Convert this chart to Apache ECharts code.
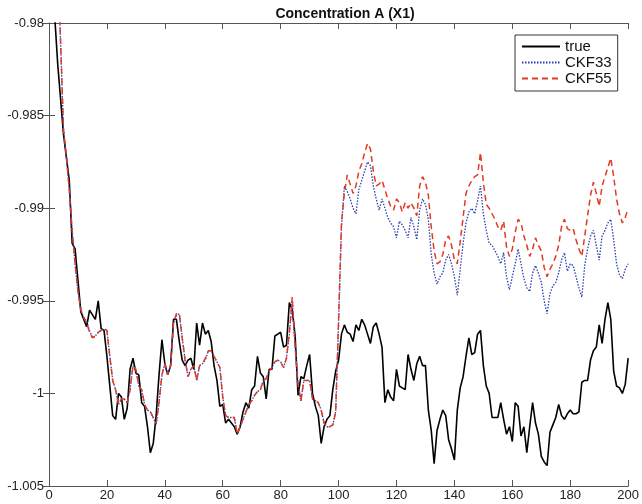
<!DOCTYPE html>
<html>
<head>
<meta charset="utf-8">
<script src="https://cdn.jsdelivr.net/npm/echarts@6/dist/echarts.min.js"></script>
<style>html,body{margin:0;padding:0;background:#fff}#c{width:642px;height:504px}</style>
</head>
<body>
<div id="c"></div>
<script>
const titleText = 'Concentration A (X1)';
const seriesNames = ['true', 'CKF33', 'CKF55'];
const xTicks = [0, 20, 40, 60, 80, 100, 120, 140, 160, 180, 200];
const yTicks = [-1.005, -1, -0.995, -0.99, -0.985, -0.98];

const trueT = [1,2,3,5,7,8,9,11,13,14,16,17,18,19,20,22,23,24,25,26,27,28,29,30,31,32,33,34,35,36,37,38,39,40,41,42,43,44,45,46,47,48,49,50,51,52,53,54,55,56,57,58,59,60,61,62,63,64,65,66,67,68,69,70,71,72,73,74,75,76,77,78,79,80,81,82,83,84,85,86,87,88,89,90,91,92,93,94,95,96,97,98,99,100,101,102,103,104,105,106,107,108,109,110,111,112,113,114,115,116,117,118,119,120,121,122,123,124,125,126,127,128,129,130,131,132,133,134,135,136,137,138,139,140,141,142,143,144,145,146,147,148,149,150,151,152,153,154,155,156,157,158,159,160,161,162,163,164,165,166,167,168,169,170,171,172,173,174,175,176,177,178,179,180,181,182,183,184,185,186,187,188,189,190,191,192,193,194,195,196,197,198,199,200];
const trueV = [-0.9773,-0.9797,-0.9822,-0.9860,-0.9885,-0.9919,-0.9922,-0.9956,-0.9964,-0.9955,-0.9960,-0.9950,-0.9965,-0.9966,-0.9980,-1.0012,-1.0014,-1.0000,-1.0002,-1.0014,-1.0008,-0.9987,-0.9981,-0.9989,-0.9990,-1.0005,-1.0007,-1.0018,-1.0032,-1.0027,-1.0012,-0.9990,-0.9971,-0.9984,-0.9990,-0.9985,-0.9960,-0.9960,-0.9972,-0.9982,-0.9985,-0.9982,-0.9981,-0.9987,-0.9962,-0.9974,-0.9962,-0.9968,-0.9966,-0.9972,-0.9985,-0.9993,-1.0007,-1.0006,-1.0016,-1.0014,-1.0016,-1.0018,-1.0022,-1.0018,-1.0010,-1.0005,-1.0008,-0.9998,-0.9996,-0.9980,-0.9989,-0.9991,-1.0003,-0.9987,-0.9987,-0.9969,-0.9968,-0.9967,-0.9975,-0.9974,-0.9951,-0.9955,-0.9969,-1.0001,-0.9991,-0.9992,-0.9985,-0.9979,-1.0000,-1.0007,-1.0012,-1.0027,-1.0018,-1.0014,-1.0012,-0.9998,-0.9988,-0.9982,-0.9968,-0.9963,-0.9967,-0.9968,-0.9972,-0.9963,-0.9966,-0.9960,-0.9963,-0.9968,-0.9973,-0.9964,-0.9962,-0.9968,-0.9975,-1.0005,-0.9998,-1.0002,-1.0004,-0.9987,-0.9996,-0.9997,-0.9998,-0.9979,-0.9987,-0.9993,-0.9984,-0.9980,-0.9985,-0.9985,-1.0009,-1.0020,-1.0038,-1.0020,-1.0014,-1.0009,-1.0012,-1.0025,-1.0030,-1.0036,-1.0009,-0.9997,-0.9991,-0.9980,-0.9970,-0.9979,-0.9978,-0.9968,-0.9966,-0.9985,-0.9996,-1.0000,-1.0013,-1.0013,-1.0013,-1.0005,-1.0014,-1.0022,-1.0018,-1.0026,-1.0005,-1.0007,-1.0023,-1.0018,-1.0032,-1.0018,-1.0005,-1.0016,-1.0022,-1.0034,-1.0037,-1.0039,-1.0021,-1.0017,-1.0013,-1.0006,-1.0012,-1.0014,-1.0011,-1.0009,-1.0011,-1.0011,-1.0010,-0.9994,-0.9993,-0.9993,-0.9982,-0.9977,-0.9975,-0.9963,-0.9973,-0.9960,-0.9951,-0.9960,-0.9988,-0.9996,-0.9997,-1.0000,-0.9995,-0.9981];

const ckfT = [3,4,5,6,7,8,9,10,11,12,13,14,15,16,17,18,19,20,21,22,23,24,25,26,27,28,29,30,31,32,33,34,35,36,37,38,39,40,41,42,43,44,45,46,47,48,49,50,51,52,53,54,55,56,57,58,59,60,61,62,63,64,65,66,67,68,69,70,71,72,73,74,75,76,77,78,79,80,81,82,83,84,85,86,87,88,89,90,91,92,93,94,95,96,97,98,99,100,101,102,103,104,105,106,107,108,109,110,111,112,113,114,115,116,117,118,119,120,121,122,123,124,125,126,127,128,129,130,131,132,133,134,135,136,137,138,139,140,141,142,143,144,145,146,147,148,149,150,151,152,153,154,155,156,157,158,159,160,161,162,163,164,165,166,167,168,169,170,171,172,173,174,175,176,177,178,179,180,181,182,183,184,185,186,187,188,189,190,191,192,193,194,195,196,197,198,199,200];

const ckf33V = [-0.9765,-0.9810,-0.9858,-0.9872,-0.9890,-0.9912,-0.9930,-0.9945,-0.9955,-0.9959,-0.9961,-0.9966,-0.9970,-0.9969,-0.9967,-0.9966,-0.9965,-0.9966,-0.9980,-0.9993,-0.9998,-1.0006,-1.0003,-1.0003,-1.0005,-0.9998,-0.9985,-0.9987,-0.9996,-0.9998,-1.0006,-1.0009,-1.0010,-1.0013,-1.0017,-1.0005,-0.9990,-0.9984,-0.9990,-0.9985,-0.9962,-0.9958,-0.9957,-0.9970,-0.9982,-0.9991,-0.9987,-0.9985,-0.9993,-0.9985,-0.9984,-0.9982,-0.9977,-0.9977,-0.9980,-0.9983,-0.9986,-1.0002,-1.0012,-1.0013,-1.0013,-1.0013,-1.0022,-1.0018,-1.0014,-1.0010,-1.0006,-1.0004,-1.0001,-0.9999,-0.9998,-0.9993,-0.9992,-0.9988,-0.9986,-0.9983,-0.9982,-0.9983,-0.9986,-0.9981,-0.9968,-0.9950,-0.9975,-0.9995,-1.0004,-0.9993,-0.9993,-0.9993,-1.0003,-1.0004,-1.0005,-1.0009,-1.0016,-1.0018,-1.0018,-1.0017,-1.0010,-0.9962,-0.9910,-0.9888,-0.9891,-0.9895,-0.9900,-0.9903,-0.9890,-0.9885,-0.9880,-0.9875,-0.9877,-0.9888,-0.9895,-0.9901,-0.9895,-0.9900,-0.9905,-0.9908,-0.9910,-0.9916,-0.9907,-0.9909,-0.9912,-0.9916,-0.9905,-0.9910,-0.9917,-0.9901,-0.9895,-0.9898,-0.9906,-0.9925,-0.9935,-0.9941,-0.9937,-0.9935,-0.9928,-0.9925,-0.9930,-0.9937,-0.9947,-0.9933,-0.9919,-0.9908,-0.9902,-0.9900,-0.9903,-0.9896,-0.9888,-0.9903,-0.9912,-0.9919,-0.9920,-0.9923,-0.9926,-0.9930,-0.9924,-0.9937,-0.9944,-0.9937,-0.9930,-0.9922,-0.9930,-0.9938,-0.9943,-0.9945,-0.9935,-0.9931,-0.9935,-0.9940,-0.9950,-0.9957,-0.9946,-0.9942,-0.9940,-0.9935,-0.9928,-0.9924,-0.9934,-0.9930,-0.9931,-0.9937,-0.9943,-0.9948,-0.9931,-0.9922,-0.9915,-0.9912,-0.9920,-0.9928,-0.9915,-0.9912,-0.9908,-0.9906,-0.9917,-0.9930,-0.9936,-0.9938,-0.9933,-0.9930];

const ckf55V = [-0.9765,-0.9810,-0.9857,-0.9872,-0.9890,-0.9912,-0.9930,-0.9945,-0.9955,-0.9959,-0.9962,-0.9967,-0.9970,-0.9969,-0.9967,-0.9966,-0.9965,-0.9966,-0.9980,-0.9993,-0.9998,-1.0006,-1.0003,-1.0003,-1.0005,-0.9998,-0.9985,-0.9987,-0.9996,-0.9998,-1.0006,-1.0009,-1.0010,-1.0013,-1.0016,-1.0005,-0.9990,-0.9984,-0.9990,-0.9985,-0.9962,-0.9957,-0.9957,-0.9970,-0.9982,-0.9991,-0.9987,-0.9985,-0.9993,-0.9985,-0.9984,-0.9981,-0.9977,-0.9977,-0.9980,-0.9983,-0.9986,-1.0002,-1.0012,-1.0013,-1.0013,-1.0013,-1.0022,-1.0018,-1.0014,-1.0010,-1.0006,-1.0004,-1.0001,-0.9999,-0.9998,-0.9993,-0.9992,-0.9988,-0.9986,-0.9983,-0.9982,-0.9983,-0.9986,-0.9981,-0.9967,-0.9948,-0.9975,-0.9995,-1.0004,-0.9993,-0.9993,-0.9993,-1.0003,-1.0004,-1.0005,-1.0009,-1.0016,-1.0018,-1.0018,-1.0017,-1.0010,-0.9960,-0.9908,-0.9892,-0.9882,-0.9887,-0.9892,-0.9888,-0.9880,-0.9876,-0.9870,-0.9865,-0.9868,-0.9880,-0.9888,-0.9887,-0.9885,-0.9890,-0.9895,-0.9899,-0.9901,-0.9895,-0.9897,-0.9902,-0.9897,-0.9900,-0.9897,-0.9900,-0.9904,-0.9888,-0.9883,-0.9886,-0.9893,-0.9910,-0.9923,-0.9930,-0.9929,-0.9925,-0.9917,-0.9915,-0.9920,-0.9928,-0.9930,-0.9918,-0.9905,-0.9892,-0.9888,-0.9885,-0.9883,-0.9882,-0.9870,-0.9886,-0.9898,-0.9900,-0.9903,-0.9906,-0.9910,-0.9912,-0.9907,-0.9921,-0.9926,-0.9922,-0.9913,-0.9906,-0.9908,-0.9915,-0.9920,-0.9926,-0.9922,-0.9916,-0.9920,-0.9923,-0.9932,-0.9937,-0.9933,-0.9930,-0.9926,-0.9920,-0.9910,-0.9906,-0.9911,-0.9912,-0.9911,-0.9917,-0.9922,-0.9926,-0.9915,-0.9904,-0.9893,-0.9886,-0.9892,-0.9899,-0.9888,-0.9883,-0.9878,-0.9873,-0.9883,-0.9895,-0.9903,-0.9908,-0.9905,-0.9900];

function zip(t, v) { return t.map((x, i) => [x, v[i]]); }
function fmtY(v) { return String(parseFloat(v.toFixed(4))); }

const chart = echarts.init(document.getElementById('c'));
const axisCol = '#555';
const font = 'Liberation Sans, Arial, Helvetica, sans-serif';
chart.setOption({
  backgroundColor: '#fff',
  animation: false,
  title: {
    text: titleText, left: 340, top: 2, textAlign: 'center',
    textStyle: { fontFamily: font, fontSize: 14, fontWeight: 'bold', color: '#111' }
  },
  legend: {
    orient: 'vertical', left: 515, top: 35,
    data: seriesNames,
    itemWidth: 38, itemHeight: 12, itemGap: 1,
    padding: [4, 6, 5, 6],
    itemStyle: { opacity: 0 },
    borderColor: '#333', borderWidth: 1, backgroundColor: '#fff',
    textStyle: { fontFamily: font, fontSize: 15, lineHeight: 15, color: '#111' }
  },
  grid: { left: 49, right: 10, top: 23, bottom: 18 },
  xAxis: [{
    type: 'value', min: xTicks[0], max: xTicks[xTicks.length - 1], interval: 20,
    axisLine: { lineStyle: { color: axisCol, width: 1 } },
    axisTick: { inside: true, length: 6, lineStyle: { color: axisCol } },
    axisLabel: { color: '#222', fontFamily: font, fontSize: 13, margin: 3 },
    splitLine: { show: false }
  }, {
    type: 'value', position: 'top', min: xTicks[0], max: xTicks[xTicks.length - 1], interval: 20,
    axisLine: { lineStyle: { color: axisCol, width: 1 } },
    axisTick: { inside: true, length: 6, lineStyle: { color: axisCol } },
    axisLabel: { show: false }, splitLine: { show: false }
  }],
  yAxis: [{
    type: 'value', min: yTicks[0], max: yTicks[yTicks.length - 1], interval: 0.005,
    axisLine: { show: true, lineStyle: { color: axisCol, width: 1 } },
    axisTick: { show: true, inside: true, length: 6, lineStyle: { color: axisCol } },
    axisLabel: { color: '#222', fontFamily: font, fontSize: 13, margin: 5, formatter: fmtY },
    splitLine: { show: false }
  }, {
    type: 'value', position: 'right', min: yTicks[0], max: yTicks[yTicks.length - 1], interval: 0.005,
    axisLine: { show: true, lineStyle: { color: axisCol, width: 1 } },
    axisTick: { show: true, inside: true, length: 6, lineStyle: { color: axisCol } },
    axisLabel: { show: false }, splitLine: { show: false }
  }],
  series: [{
    name: seriesNames[0], type: 'line', data: zip(trueT, trueV), symbol: 'none',
    lineStyle: { color: '#000', width: 1.6 }, itemStyle: { color: '#000' }, z: 3
  }, {
    name: seriesNames[1], type: 'line', data: zip(ckfT, ckf33V), symbol: 'none',
    lineStyle: { color: '#2a3fb0', width: 1.3, type: [1.5, 1.5] }, itemStyle: { color: '#2a3fb0' }, z: 4
  }, {
    name: seriesNames[2], type: 'line', data: zip(ckfT, ckf55V), symbol: 'none',
    lineStyle: { color: '#e03a22', width: 1.5, type: [6, 4] }, itemStyle: { color: '#e03a22' }, z: 5
  }]
});
</script>
</body>
</html>
